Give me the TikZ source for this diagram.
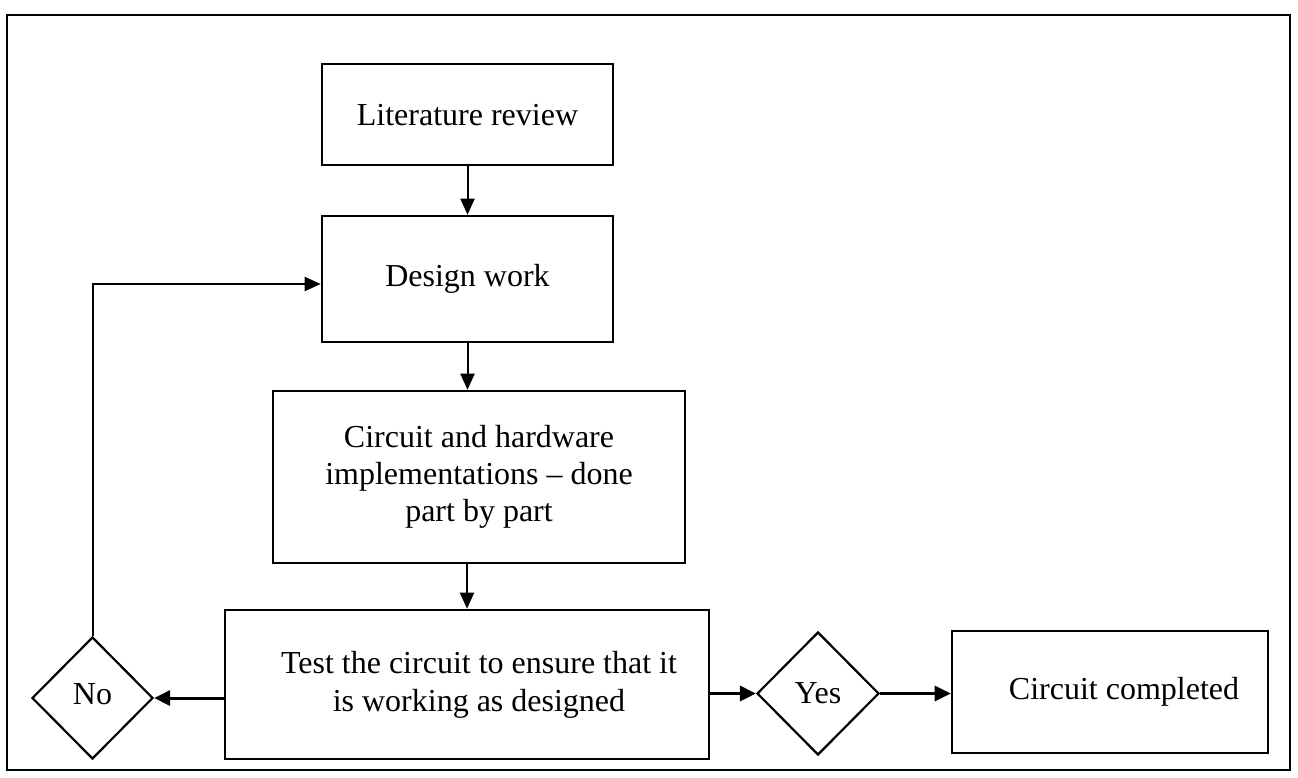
\documentclass[tikz,border=0pt]{standalone}
\usepackage{fontspec}
\setmainfont{Liberation Serif}
\usetikzlibrary{arrows.meta,shapes.geometric,calc}
\begin{document}
\begin{tikzpicture}[x=1pt,y=-1pt,
  box/.style={draw,line width=2.6pt,inner sep=0pt,align=center,font=\fontsize{32}{37}\selectfont},
  dia/.style={draw,shape=diamond,line width=2.2pt,inner sep=0pt,font=\fontsize{32}{37}\selectfont},
  arr/.style={line width=2pt,-{Triangle[length=16pt,width=14pt]}},
  harr/.style={line width=3pt,-{Triangle[length=16pt,width=15pt]}}]
\useasboundingbox (0,0) rectangle (1298,778);
\draw[line width=2.8pt] (7,15) rectangle (1290,770);
\node[box,minimum width=291pt,minimum height=101pt,text depth=-6pt] (lit) at (467.5,114.5) {Literature review};
\node[box,minimum width=291pt,minimum height=126pt] (design) at (467.5,279) {Design work};
\node[box,minimum width=412pt,minimum height=172pt] (circ) at (479,477) {Circuit and hardware\\implementations -- done\\part by part};
\node[box,minimum width=484pt,minimum height=149pt,font=\fontsize{32}{38}\selectfont] (test) at (467,684.5) {\hspace*{24pt}Test the circuit to ensure that it\\\hspace*{24pt}is working as designed};
\node[dia,minimum width=121pt,minimum height=122pt] (no) at (92.5,698) {\raisebox{8pt}{No}};
\node[dia,minimum width=122pt,minimum height=123pt] (yes) at (818,693.5) {Yes};
\node[box,minimum width=316pt,minimum height=122pt] (done) at (1110,692) {\hspace*{28pt}Circuit completed};
\draw[arr] (lit.south) -- (design.north);
\draw[arr] (design.south) -- (design.south |- circ.north);
\draw[arr] (test.north |- circ.south) -- (test.north);
\draw[harr] (test.west |- no.east) -- (no.east);
\draw[harr] (test.east |- yes.west) -- (yes.west);
\draw[harr] (yes.east) -- (yes.east -| done.west);
\draw[arr] (no.north) |- ($(design.west)+(0,5)$);
\end{tikzpicture}
\end{document}
